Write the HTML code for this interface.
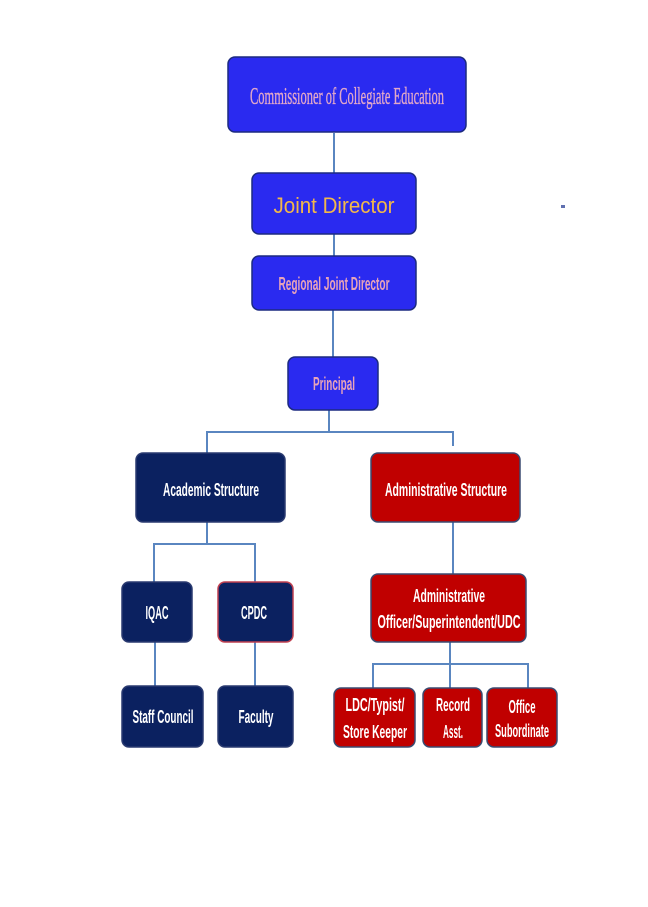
<!DOCTYPE html>
<html>
<head>
<meta charset="utf-8">
<style>
  html, body { margin: 0; padding: 0; background: #ffffff; }
  svg { display: block; }
</style>
</head>
<body>
<svg width="648" height="907" viewBox="0 0 648 907" xmlns="http://www.w3.org/2000/svg">
  <rect x="0" y="0" width="648" height="907" fill="#ffffff"/>
  <!-- connectors -->
  <g stroke="#5a86c0" stroke-width="2" fill="none">
    <line x1="334" y1="133" x2="334" y2="173"/>
    <line x1="334" y1="234" x2="334" y2="256"/>
    <line x1="333" y1="310" x2="333" y2="357"/>
    <line x1="329" y1="410" x2="329" y2="432"/>
    <line x1="206" y1="432" x2="454" y2="432"/>
    <line x1="207" y1="432" x2="207" y2="453"/>
    <line x1="453" y1="432" x2="453" y2="446"/>
    <line x1="207" y1="522" x2="207" y2="544"/>
    <line x1="153" y1="544" x2="256" y2="544"/>
    <line x1="154" y1="544" x2="154" y2="582"/>
    <line x1="255" y1="544" x2="255" y2="582"/>
    <line x1="155" y1="642" x2="155" y2="686"/>
    <line x1="255" y1="642" x2="255" y2="686"/>
    <line x1="453" y1="522" x2="453" y2="574"/>
    <line x1="450" y1="642" x2="450" y2="688"/>
    <line x1="372" y1="664" x2="529" y2="664"/>
    <line x1="373" y1="664" x2="373" y2="688"/>
    <line x1="528" y1="664" x2="528" y2="688"/>
  </g>

  <!-- boxes -->
  <g stroke-width="1.5">
    <rect x="228" y="57" width="238" height="75" rx="7" fill="#2a2af0" stroke="#1c2a80"/>
    <rect x="252" y="173" width="164" height="61" rx="7" fill="#2a2af0" stroke="#1c2a80"/>
    <rect x="252" y="256" width="164" height="54" rx="7" fill="#2a2af0" stroke="#1c2a80"/>
    <rect x="288" y="357" width="90" height="53" rx="7" fill="#2a2af0" stroke="#1c2a80"/>

    <rect x="136" y="453" width="149" height="69" rx="7" fill="#0b2160" stroke="#2a3a70"/>
    <rect x="371" y="453" width="149" height="69" rx="7" fill="#c00000" stroke="#3a4a70"/>

    <rect x="122" y="582" width="70" height="60" rx="7" fill="#0b2160" stroke="#2a3a70"/>
    <rect x="218" y="582" width="75" height="60" rx="7" fill="#0b2160" stroke="#c04050"/>
    <rect x="122" y="686" width="81" height="61" rx="7" fill="#0b2160" stroke="#2a3a70"/>
    <rect x="218" y="686" width="75" height="61" rx="7" fill="#0b2160" stroke="#2a3a70"/>

    <rect x="371" y="574" width="155" height="68" rx="7" fill="#c00000" stroke="#3a4a70"/>
    <rect x="334" y="688" width="81" height="59" rx="7" fill="#c00000" stroke="#3a4a70"/>
    <rect x="423" y="688" width="59" height="59" rx="7" fill="#c00000" stroke="#3a4a70"/>
    <rect x="487" y="688" width="70" height="59" rx="7" fill="#c00000" stroke="#3a4a70"/>
  </g>

  <!-- small dot -->
  <rect x="561" y="205" width="4" height="3" fill="#6070b0"/>

  <!-- text -->
  <text x="347" y="104" text-anchor="middle" font-family="'Liberation Serif', serif" font-size="24" fill="#e2a8c8" stroke="#e2a8c8" stroke-width="0.35" textLength="194" lengthAdjust="spacingAndGlyphs">Commissioner of Collegiate Education</text>
  <text x="334" y="213" text-anchor="middle" font-family="'Liberation Sans', sans-serif" font-size="22" fill="#f2b84a" textLength="121" lengthAdjust="spacingAndGlyphs">Joint Director</text>

  <g font-family="'Liberation Sans', sans-serif" font-weight="bold" font-size="18" text-anchor="middle">
    <text x="334" y="290" fill="#e8a4b8" textLength="111" lengthAdjust="spacingAndGlyphs">Regional Joint Director</text>
    <text x="334" y="390" fill="#e8a4b8" textLength="42" lengthAdjust="spacingAndGlyphs">Principal</text>

    <text x="211" y="496" fill="#ffffff" textLength="96" lengthAdjust="spacingAndGlyphs">Academic Structure</text>
    <text x="446" y="496" fill="#ffffff" textLength="122" lengthAdjust="spacingAndGlyphs">Administrative Structure</text>

    <text x="157" y="619" fill="#ffffff" textLength="23" lengthAdjust="spacingAndGlyphs">IQAC</text>
    <text x="254" y="619" fill="#ffffff" textLength="26" lengthAdjust="spacingAndGlyphs">CPDC</text>
    <text x="163" y="723" fill="#ffffff" textLength="61" lengthAdjust="spacingAndGlyphs">Staff Council</text>
    <text x="256" y="723" fill="#ffffff" textLength="35" lengthAdjust="spacingAndGlyphs">Faculty</text>

    <text x="449" y="602" fill="#ffffff" textLength="72" lengthAdjust="spacingAndGlyphs">Administrative</text>
    <text x="449" y="628" fill="#ffffff" textLength="143" lengthAdjust="spacingAndGlyphs">Officer/Superintendent/UDC</text>

    <text x="375" y="711" fill="#ffffff" textLength="59" lengthAdjust="spacingAndGlyphs">LDC/Typist/</text>
    <text x="375" y="738" fill="#ffffff" textLength="64" lengthAdjust="spacingAndGlyphs">Store Keeper</text>

    <text x="453" y="711" fill="#ffffff" textLength="34" lengthAdjust="spacingAndGlyphs">Record</text>
    <text x="453" y="738" fill="#ffffff" textLength="20" lengthAdjust="spacingAndGlyphs">Asst.</text>

    <text x="522" y="713" fill="#ffffff" textLength="27" lengthAdjust="spacingAndGlyphs">Office</text>
    <text x="522" y="737" fill="#ffffff" textLength="54" lengthAdjust="spacingAndGlyphs">Subordinate</text>
  </g>
</svg>
</body>
</html>
